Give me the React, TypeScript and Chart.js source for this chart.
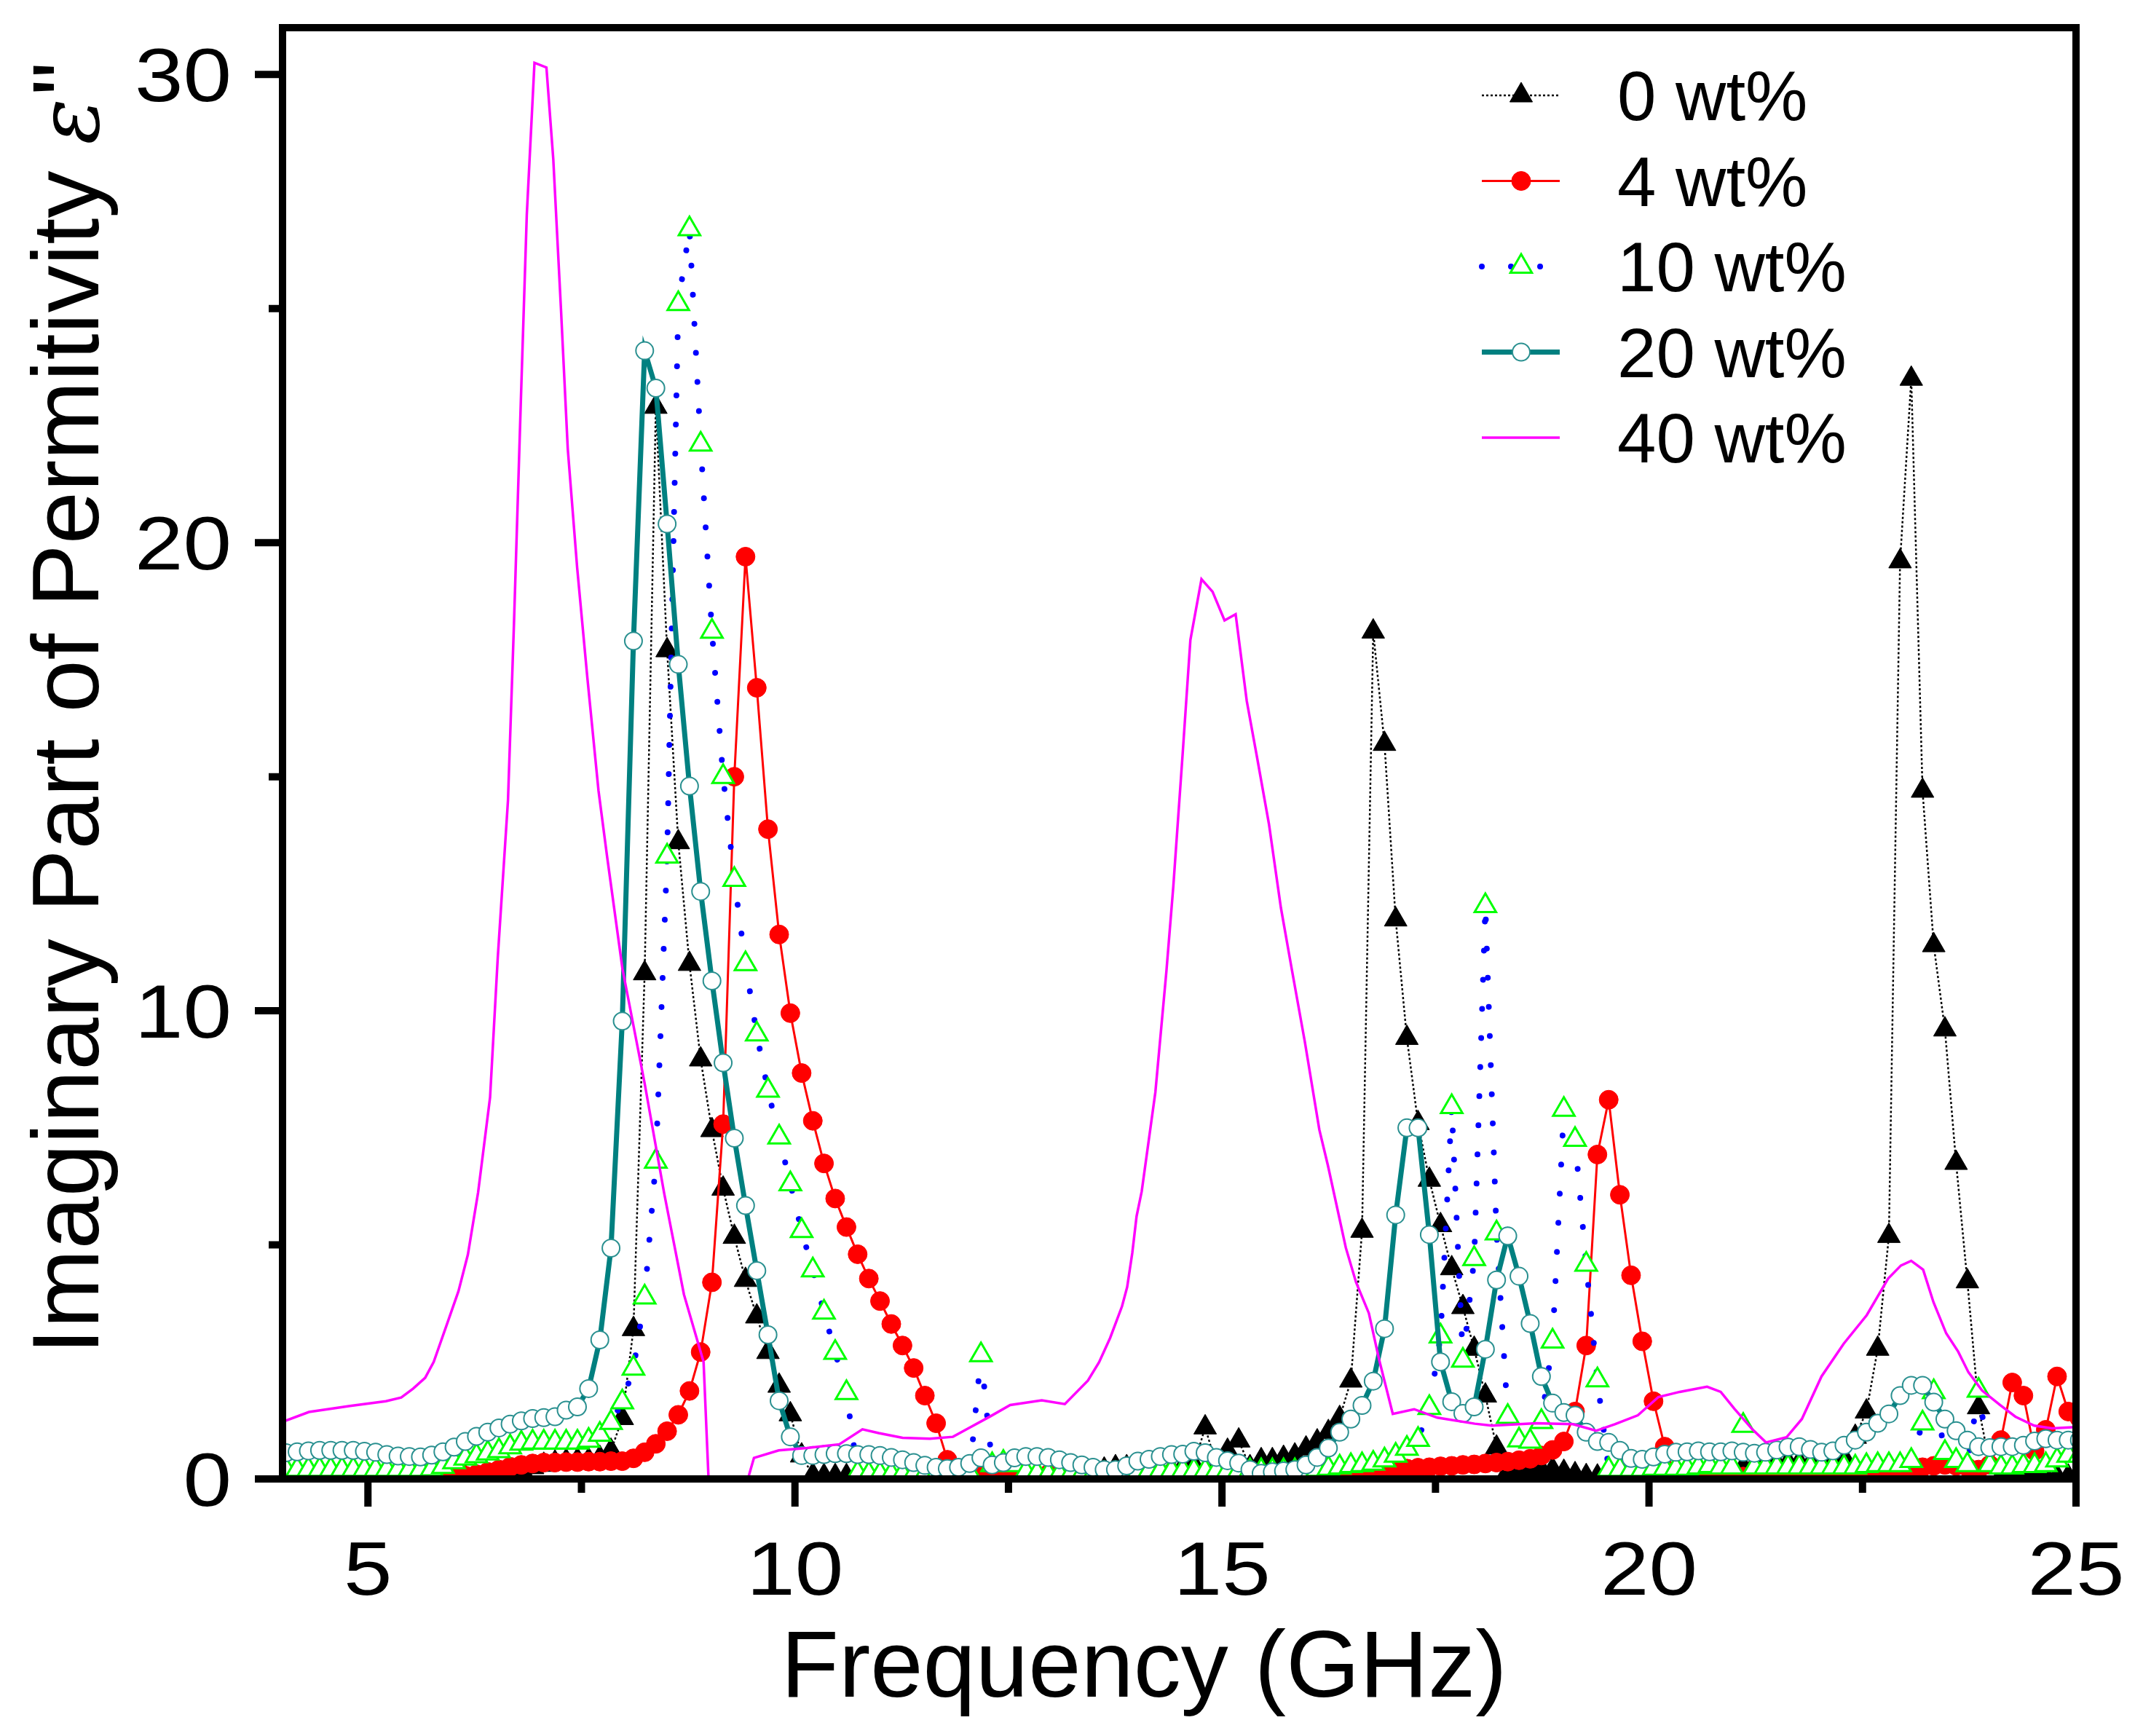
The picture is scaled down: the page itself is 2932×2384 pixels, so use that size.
import { useEffect, useRef } from "react";
import { Chart, registerables } from "chart.js";
import { drawPoint } from "chart.js/helpers";

Chart.register(...registerables);

// shared frequency grid of the four marker series (GHz)
const freq = [
  4.04, 4.171, 4.303, 4.434, 4.565, 4.696, 4.828, 4.959, 5.09, 5.221,
  5.353, 5.484, 5.615, 5.746, 5.878, 6.009, 6.14, 6.271, 6.403, 6.534,
  6.665, 6.796, 6.928, 7.059, 7.19, 7.321, 7.453, 7.584, 7.715, 7.846,
  7.978, 8.109, 8.24, 8.371, 8.503, 8.634, 8.765, 8.896, 9.028, 9.159,
  9.29, 9.421, 9.553, 9.684, 9.815, 9.946, 10.078, 10.209, 10.34, 10.471,
  10.603, 10.734, 10.865, 10.996, 11.128, 11.259, 11.39, 11.521, 11.653, 11.784,
  11.915, 12.046, 12.178, 12.309, 12.44, 12.571, 12.703, 12.834, 12.965, 13.096,
  13.228, 13.359, 13.49, 13.621, 13.753, 13.884, 14.015, 14.146, 14.278, 14.409,
  14.54, 14.671, 14.803, 14.934, 15.065, 15.196, 15.328, 15.459, 15.59, 15.721,
  15.853, 15.984, 16.115, 16.246, 16.378, 16.509, 16.64, 16.771, 16.903, 17.034,
  17.165, 17.296, 17.428, 17.559, 17.69, 17.821, 17.953, 18.084, 18.215, 18.346,
  18.478, 18.609, 18.74, 18.871, 19.003, 19.134, 19.265, 19.396, 19.528, 19.659,
  19.79, 19.921, 20.053, 20.184, 20.315, 20.446, 20.578, 20.709, 20.84, 20.971,
  21.103, 21.234, 21.365, 21.496, 21.628, 21.759, 21.89, 22.021, 22.153, 22.284,
  22.415, 22.546, 22.678, 22.809, 22.94, 23.071, 23.203, 23.334, 23.465, 23.596,
  23.728, 23.859, 23.99, 24.121, 24.253, 24.384, 24.515, 24.646, 24.778, 24.909,
  25.04,
];

const eps0wt = [
  0.03, 0.03, 0.03, 0.03, 0.03, 0.03, 0.03, 0.03, 0.03, 0.03,
  0.03, 0.03, 0.03, 0.03, 0.03, 0.03, 0.04, 0.05, 0.07, 0.1,
  0.15, 0.2, 0.25, 0.3, 0.35, 0.38, 0.4, 0.4, 0.45, 0.6,
  1.3, 3.2, 10.8, 22.9, 17.7, 13.6, 11.0, 8.96, 7.45, 6.2,
  5.17, 4.25, 3.47, 2.71, 1.99, 1.38, 0.5, 0.08, 0.06, 0.06,
  0.06, 0.06, 0.06, 0.05, 0.05, 0.05, 0.05, 0.05, 0.05, 0.05,
  0.05, 0.05, 0.06, 0.06, 0.07, 0.07, 0.08, 0.08, 0.09, 0.1,
  0.1, 0.12, 0.15, 0.2, 0.25, 0.25, 0.2, 0.18, 0.18, 0.2,
  0.25, 0.3, 1.1, 0.3, 0.6, 0.82, 0.25, 0.4, 0.4, 0.45,
  0.5, 0.65, 0.8, 1.0, 1.3, 2.1, 5.3, 18.1, 15.7, 11.95,
  9.42, 7.6, 6.39, 5.42, 4.5, 3.67, 2.78, 1.78, 0.67, 0.15,
  0.12, 0.2, 0.2, 0.2, 0.15, 0.1, 0.06, 0.05, 0.05, 0.05,
  0.05, 0.05, 0.05, 0.05, 0.05, 0.06, 0.08, 0.1, 0.12, 0.15,
  0.25, 0.3, 0.33, 0.33, 0.35, 0.35, 0.33, 0.32, 0.35, 0.45,
  0.9, 1.44, 2.78, 5.19, 19.6, 23.5, 14.7, 11.4, 9.6, 6.75,
  4.22, 1.53, 0.3, 0.05, 0.05, 0.05, 0.05, 0.05, 0.05, 0.05,
  0.05,
];

const eps4wt = [
  0.03, 0.03, 0.03, 0.03, 0.03, 0.03, 0.03, 0.03, 0.03, 0.03,
  0.03, 0.03, 0.03, 0.03, 0.04, 0.05, 0.07, 0.1, 0.15, 0.2,
  0.26, 0.3, 0.33, 0.35, 0.35, 0.36, 0.36, 0.37, 0.37, 0.38,
  0.38, 0.44, 0.57, 0.75, 1.02, 1.37, 1.88, 2.71, 4.2, 7.58,
  15.0, 19.7, 16.9, 13.88, 11.63, 9.95, 8.67, 7.65, 6.74, 5.99,
  5.38, 4.8, 4.28, 3.8, 3.31, 2.85, 2.37, 1.78, 1.19, 0.41,
  0.06, 0.05, 0.1, 0.05, 0.04, 0.04, 0.04, 0.05, 0.1, 0.1,
  0.05, 0.04, 0.04, 0.04, 0.04, 0.03, 0.03, 0.03, 0.03, 0.03,
  0.03, 0.03, 0.03, 0.03, 0.03, 0.03, 0.03, 0.03, 0.03, 0.03,
  0.03, 0.05, 0.06, 0.08, 0.1, 0.12, 0.14, 0.16, 0.18, 0.2,
  0.22, 0.24, 0.25, 0.27, 0.28, 0.3, 0.31, 0.33, 0.35, 0.37,
  0.4, 0.43, 0.5, 0.62, 0.8, 1.44, 2.85, 6.93, 8.1, 6.07,
  4.35, 2.94, 1.66, 0.69, 0.05, 0.04, 0.04, 0.04, 0.04, 0.04,
  0.05, 0.05, 0.05, 0.05, 0.05, 0.05, 0.05, 0.05, 0.05, 0.05,
  0.06, 0.08, 0.1, 0.12, 0.14, 0.15, 0.25, 0.28, 0.3, 0.28,
  0.25, 0.2, 0.3, 0.83, 2.06, 1.78, 0.6, 1.05, 2.19, 1.44,
  1.3,
];

const eps10wt = [
  0.2, 0.2, 0.2, 0.2, 0.2, 0.2, 0.2, 0.2, 0.2, 0.2,
  0.2, 0.2, 0.2, 0.21, 0.26, 0.36, 0.44, 0.49, 0.55, 0.6,
  0.68, 0.76, 0.78, 0.78, 0.78, 0.78, 0.78, 0.82, 0.95, 1.2,
  1.64, 2.36, 3.88, 6.78, 13.3, 25.1, 26.7, 22.1, 18.1, 15.0,
  12.8, 11.0, 9.5, 8.3, 7.3, 6.3, 5.3, 4.46, 3.56, 2.7,
  1.84, 0.12, 0.1, 0.1, 0.1, 0.1, 0.1, 0.1, 0.1, 0.1,
  0.1, 0.12, 2.65, 0.3, 0.35, 0.3, 0.15, 0.12, 0.1, 0.1,
  0.1, 0.1, 0.1, 0.1, 0.1, 0.12, 0.15, 0.17, 0.17, 0.17,
  0.17, 0.17, 0.17, 0.17, 0.17, 0.17, 0.17, 0.17, 0.17, 0.17,
  0.17, 0.18, 0.2, 0.22, 0.25, 0.28, 0.3, 0.33, 0.4, 0.5,
  0.65, 0.84, 1.52, 3.05, 7.95, 2.53, 4.7, 12.24, 5.25, 1.33,
  0.83, 0.8, 1.22, 2.94, 7.89, 7.25, 4.58, 2.11, 0.2, 0.2,
  0.2, 0.2, 0.22, 0.22, 0.22, 0.22, 0.25, 0.28, 0.25, 0.25,
  1.14, 0.25, 0.25, 0.25, 0.25, 0.25, 0.25, 0.25, 0.25, 0.25,
  0.25, 0.28, 0.3, 0.3, 0.3, 0.39, 1.19, 1.86, 0.56, 0.39,
  0.3, 1.89, 0.3, 0.25, 0.25, 0.28, 0.28, 0.3, 0.4, 0.5,
  0.5,
];

const eps20wt = [
  0.56, 0.58, 0.6, 0.61, 0.61, 0.61, 0.61, 0.59, 0.57, 0.52,
  0.49, 0.48, 0.47, 0.51, 0.58, 0.68, 0.8, 0.91, 1.0, 1.09,
  1.17, 1.24, 1.29, 1.31, 1.33, 1.47, 1.54, 1.93, 2.97, 4.93,
  9.78, 17.9, 24.1, 23.3, 20.4, 17.4, 14.8, 12.55, 10.64, 8.89,
  7.28, 5.84, 4.45, 3.08, 1.67, 0.9, 0.5, 0.5, 0.52, 0.54,
  0.54, 0.52, 0.52, 0.5, 0.46, 0.41, 0.35, 0.29, 0.25, 0.22,
  0.25, 0.33, 0.45, 0.3, 0.35, 0.45, 0.48, 0.48, 0.46, 0.41,
  0.35, 0.3, 0.25, 0.2, 0.2, 0.28, 0.38, 0.42, 0.48, 0.52,
  0.53, 0.59, 0.56, 0.46, 0.39, 0.34, 0.2, 0.12, 0.15, 0.17,
  0.2, 0.3, 0.46, 0.66, 1.0, 1.28, 1.57, 2.09, 3.21, 5.64,
  7.5, 7.5, 5.22, 2.5, 1.65, 1.4, 1.54, 2.77, 4.25, 5.19,
  4.33, 3.32, 2.19, 1.62, 1.42, 1.36, 1.0, 0.8, 0.78, 0.61,
  0.44, 0.42, 0.47, 0.53, 0.57, 0.58, 0.6, 0.58, 0.58, 0.6,
  0.57, 0.55, 0.57, 0.62, 0.68, 0.69, 0.63, 0.57, 0.6, 0.72,
  0.83, 1.0, 1.19, 1.39, 1.78, 2.0, 2.0, 1.64, 1.28, 1.03,
  0.83, 0.69, 0.67, 0.69, 0.69, 0.72, 0.81, 0.86, 0.83, 0.83,
  0.83,
];

// 40 wt% has no markers, read at its own frequencies
const freq40 = [
  4.0, 4.31, 4.79, 5.21, 5.39, 5.53, 5.67, 5.77, 5.93, 6.06,
  6.17, 6.29, 6.43, 6.52, 6.64, 6.71, 6.79, 6.86, 6.95, 7.09,
  7.17, 7.26, 7.34, 7.45, 7.57, 7.7, 7.8, 7.98, 8.24, 8.47,
  8.7, 8.93, 9.0, 9.37, 9.52, 9.81, 10.14, 10.52, 10.79, 10.98,
  11.26, 11.58, 11.85, 12.03, 12.29, 12.52, 12.89, 13.16, 13.43, 13.56,
  13.69, 13.83, 13.89, 13.95, 14.0, 14.06, 14.22, 14.35, 14.43, 14.54,
  14.63, 14.76, 14.89, 15.03, 15.16, 15.29, 15.41, 15.55, 15.69, 15.82,
  15.97, 16.14, 16.24, 16.45, 16.57, 16.72, 16.84, 17.0, 17.25, 17.52,
  17.96, 18.16, 18.68, 19.11, 19.38, 19.6, 19.87, 20.11, 20.36, 20.68,
  20.84, 21.0, 21.21, 21.37, 21.61, 21.79, 22.02, 22.28, 22.55, 22.8,
  22.95, 23.07, 23.21, 23.33, 23.48, 23.62, 23.74, 23.9, 24.11, 24.29,
  24.51, 24.72, 25.0,
];
const eps40wt = [
  1.22, 1.43, 1.56, 1.66, 1.74, 1.93, 2.16, 2.5, 3.33, 4.01,
  4.79, 6.12, 8.15, 11.13, 14.5, 18.27, 23.0, 27.0, 30.25, 30.15,
  28.2, 25.0, 22.0, 19.46, 17.1, 14.7, 13.3, 10.9, 8.45, 6.09,
  3.94, 2.5, -0.5, -0.5, 0.45, 0.61, 0.66, 0.74, 1.06, 0.98,
  0.88, 0.86, 0.9, 1.08, 1.34, 1.58, 1.68, 1.6, 2.1, 2.49,
  3.01, 3.69, 4.1, 4.83, 5.61, 6.14, 8.26, 10.86, 12.65, 15.5,
  17.92, 19.22, 18.95, 18.34, 18.47, 16.62, 15.42, 13.99, 12.2, 10.86,
  9.34, 7.46, 6.7, 4.94, 4.2, 3.54, 2.55, 1.39, 1.49, 1.31,
  1.18, 1.14, 1.19, 1.17, 1.03, 1.17, 1.36, 1.75, 1.86, 1.97,
  1.86, 1.5, 1.06, 0.78, 0.89, 1.28, 2.19, 2.89, 3.5, 4.28,
  4.56, 4.66, 4.47, 3.78, 3.11, 2.72, 2.28, 1.89, 1.58, 1.33,
  1.14, 1.08, 1.11,
];

const seriesLabels = ["0 wt%", "4 wt%", "10 wt%", "20 wt%", "40 wt%"];

const xMajorTicks = [5, 10, 15, 20, 25];
const xMinorTicks = [7.5, 12.5, 17.5, 22.5];
const yMajorTicks = [0, 10, 20, 30];
const yMinorTicks = [5, 15, 25];

const FONT = '"Liberation Sans", Arial, sans-serif';

const toPoints = (xs: number[], ys: number[]) => xs.map((x, i) => ({ x, y: ys[i] }));

// tick numbers in the original are a little wider than Arial
function stretchedText(ctx: CanvasRenderingContext2D, text: string, x: number, y: number) {
  ctx.save();
  ctx.translate(x, y);
  ctx.scale(1.15, 1);
  ctx.fillText(text, 0, 0);
  ctx.restore();
}

// frame, outward ticks, labels, axis titles and the legend
const decorPlugin = {
  id: "decor",
  afterDraw(chart: any) {
    const { ctx, chartArea: a } = chart;
    const xs = chart.scales.x;
    const ys = chart.scales.y;
    ctx.save();
    ctx.setLineDash([]);
    ctx.strokeStyle = "#000";
    ctx.lineWidth = 10;
    ctx.strokeRect(a.left, a.top, a.right - a.left, a.bottom - a.top);

    ctx.lineWidth = 10;
    ctx.beginPath();
    xMajorTicks.forEach((v) => {
      const p = xs.getPixelForValue(v);
      ctx.moveTo(p, a.bottom);
      ctx.lineTo(p, a.bottom + 38);
    });
    xMinorTicks.forEach((v) => {
      const p = xs.getPixelForValue(v);
      ctx.moveTo(p, a.bottom);
      ctx.lineTo(p, a.bottom + 19);
    });
    yMajorTicks.forEach((v) => {
      const p = ys.getPixelForValue(v);
      ctx.moveTo(a.left, p);
      ctx.lineTo(a.left - 38, p);
    });
    yMinorTicks.forEach((v) => {
      const p = ys.getPixelForValue(v);
      ctx.moveTo(a.left, p);
      ctx.lineTo(a.left - 19, p);
    });
    ctx.stroke();

    ctx.fillStyle = "#000";
    ctx.font = `104px ${FONT}`;
    ctx.textBaseline = "alphabetic";
    ctx.textAlign = "center";
    xMajorTicks.forEach((v) => stretchedText(ctx, String(v), xs.getPixelForValue(v), a.bottom + 159));
    ctx.textAlign = "right";
    yMajorTicks.forEach((v) => stretchedText(ctx, String(v), a.left - 70, ys.getPixelForValue(v) + 37));

    ctx.font = `130px ${FONT}`;
    ctx.textAlign = "center";
    ctx.fillText("Frequency (GHz)", a.left + 1183, a.bottom + 299);

    ctx.save();
    ctx.translate(a.left - 253, a.bottom - 171);
    ctx.rotate(-Math.PI / 2);
    ctx.textAlign = "left";
    const main = "Imaginary Part of Permitivity ";
    ctx.fillText(main, 0, 0);
    let off = ctx.measureText(main).width;
    ctx.font = `italic 118px "DejaVu Serif", serif`;
    ctx.fillText("\u03b5", off, 0);
    off += ctx.measureText("\u03b5").width + 4;
    ctx.font = `130px ${FONT}`;
    ctx.fillText('"', off, 0);
    ctx.restore();

    // legend
    const lx0 = 2035;
    const lx1 = 2142;
    const mx = 2089;
    chart.data.datasets.forEach((ds: any, k: number) => {
      const yRow = 131 + k * 117.5;
      ctx.save();
      ctx.strokeStyle = ds.borderColor;
      ctx.lineWidth = ds.borderWidth;
      ctx.lineCap = ds.borderCapStyle || "butt";
      ctx.setLineDash(ds.borderDash || []);
      ctx.beginPath();
      ctx.moveTo(lx0, yRow);
      ctx.lineTo(lx1, yRow);
      ctx.stroke();
      ctx.restore();
      if (ds.pointRadius > 0) {
        ctx.save();
        ctx.setLineDash([]);
        ctx.fillStyle = ds.pointBackgroundColor;
        ctx.strokeStyle = ds.pointBorderColor;
        ctx.lineWidth = ds.pointBorderWidth;
        drawPoint(ctx, { pointStyle: ds.pointStyle, radius: ds.pointRadius, borderWidth: ds.pointBorderWidth, rotation: 0 }, mx, yRow);
        ctx.restore();
      }
      ctx.fillStyle = "#000";
      ctx.font = `96px ${FONT}`;
      ctx.textAlign = "left";
      ctx.fillText(ds.label, 2221, yRow + 34);
    });
    ctx.restore();
  },
};

export default function App() {
  const canvasRef = useRef<HTMLCanvasElement>(null);
  const chartRef = useRef<Chart | null>(null);

  useEffect(() => {
    if (!canvasRef.current) return;
    if (chartRef.current) chartRef.current.destroy();

    chartRef.current = new Chart(canvasRef.current, {
      type: "line",
      data: {
        datasets: [
          {
            label: seriesLabels[0],
            data: toPoints(freq, eps0wt),
            borderColor: "#000000",
            borderWidth: 2.5,
            borderDash: [3, 3],
            pointStyle: "triangle",
            pointRadius: 18,
            pointBackgroundColor: "#000000",
            pointBorderColor: "#000000",
            pointBorderWidth: 1,
            order: 4,
          },
          {
            label: seriesLabels[1],
            data: toPoints(freq, eps4wt),
            borderColor: "#ff0000",
            borderWidth: 3,
            pointStyle: "circle",
            pointRadius: 13,
            pointBackgroundColor: "#ff0000",
            pointBorderColor: "#ff0000",
            pointBorderWidth: 1,
            order: 3,
          },
          {
            label: seriesLabels[2],
            data: toPoints(freq, eps10wt),
            borderColor: "#0000ff",
            borderWidth: 8,
            borderDash: [0.01, 40],
            borderCapStyle: "round",
            pointStyle: "triangle",
            pointRadius: 17,
            pointBackgroundColor: "#ffffff",
            pointBorderColor: "#00ff00",
            pointBorderWidth: 3,
            order: 2,
          },
          {
            label: seriesLabels[3],
            data: toPoints(freq, eps20wt),
            borderColor: "#008080",
            borderWidth: 7,
            pointStyle: "circle",
            pointRadius: 12,
            pointBackgroundColor: "#ffffff",
            pointBorderColor: "#2a9090",
            pointBorderWidth: 2,
            order: 1,
          },
          {
            label: seriesLabels[4],
            data: toPoints(freq40, eps40wt),
            borderColor: "#ff00ff",
            borderWidth: 3.5,
            pointRadius: 0,
            order: 0,
          },
        ] as any,
      },
      options: {
        animation: false,
        responsive: true,
        maintainAspectRatio: false,
        devicePixelRatio: 1,
        events: [],
        layout: { padding: { left: 388, top: 38, right: 81, bottom: 353 } },
        elements: { line: { tension: 0 } },
        scales: {
          x: { type: "linear", min: 4, max: 25, display: false },
          y: { type: "linear", min: 0, max: 31, display: false },
        },
        plugins: {
          legend: { display: false },
          tooltip: { enabled: false },
        },
      },
      plugins: [decorPlugin],
    });

    return () => {
      if (chartRef.current) {
        chartRef.current.destroy();
        chartRef.current = null;
      }
    };
  }, []);

  return (
    <div style={{ position: "fixed", left: 0, top: 0, width: 2932, height: 2384, background: "#fff" }}>
      <canvas ref={canvasRef} />
    </div>
  );
}
